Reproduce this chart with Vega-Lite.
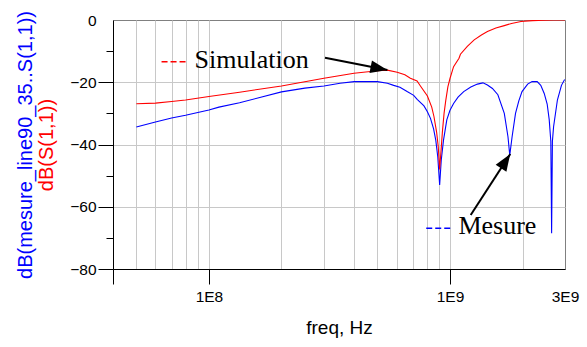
{
  "$schema": "https://vega.github.io/schema/vega-lite/v6.json",
  "width": 452,
  "height": 249,
  "autosize": {"type": "none"},
  "padding": {"left": 113, "top": 20, "right": 22, "bottom": 78},
  "background": "white",
  "config": {
    "view": {"stroke": "#808080", "strokeWidth": 1},
    "axis": {"labelFont": "Liberation Sans", "titleFont": "Liberation Sans", "titleFontWeight": "normal", "labelColor": "black", "titleColor": "black"}
  },
  "datasets": {
    "curves": [
      {"f": 50000000, "db": -34.4, "series": "Mesure"},
      {"f": 60000000, "db": -32.8, "series": "Mesure"},
      {"f": 70000000, "db": -31.5, "series": "Mesure"},
      {"f": 80000000, "db": -30.6, "series": "Mesure"},
      {"f": 100000000, "db": -28.9, "series": "Mesure"},
      {"f": 110000000, "db": -28.0, "series": "Mesure"},
      {"f": 134000000, "db": -26.6, "series": "Mesure"},
      {"f": 200000000, "db": -23.1, "series": "Mesure"},
      {"f": 250000000, "db": -21.9, "series": "Mesure"},
      {"f": 300000000, "db": -21.2, "series": "Mesure"},
      {"f": 350000000, "db": -20.3, "series": "Mesure"},
      {"f": 400000000, "db": -19.8, "series": "Mesure"},
      {"f": 500000000, "db": -19.8, "series": "Mesure"},
      {"f": 550000000, "db": -20.3, "series": "Mesure"},
      {"f": 584000000, "db": -21.0, "series": "Mesure"},
      {"f": 620000000, "db": -21.6, "series": "Mesure"},
      {"f": 664000000, "db": -23.0, "series": "Mesure"},
      {"f": 707000000, "db": -24.2, "series": "Mesure"},
      {"f": 731000000, "db": -25.5, "series": "Mesure"},
      {"f": 780000000, "db": -27.6, "series": "Mesure"},
      {"f": 806000000, "db": -29.5, "series": "Mesure"},
      {"f": 830000000, "db": -31.6, "series": "Mesure"},
      {"f": 855000000, "db": -35.0, "series": "Mesure"},
      {"f": 873000000, "db": -38.6, "series": "Mesure"},
      {"f": 890000000, "db": -44.0, "series": "Mesure"},
      {"f": 906000000, "db": -53.0, "series": "Mesure"},
      {"f": 920000000, "db": -45.0, "series": "Mesure"},
      {"f": 940000000, "db": -38.6, "series": "Mesure"},
      {"f": 970000000, "db": -32.1, "series": "Mesure"},
      {"f": 1000000000, "db": -29.0, "series": "Mesure"},
      {"f": 1035000000, "db": -26.8, "series": "Mesure"},
      {"f": 1080000000, "db": -24.8, "series": "Mesure"},
      {"f": 1140000000, "db": -23.0, "series": "Mesure"},
      {"f": 1220000000, "db": -21.5, "series": "Mesure"},
      {"f": 1300000000, "db": -20.6, "series": "Mesure"},
      {"f": 1370000000, "db": -20.2, "series": "Mesure"},
      {"f": 1430000000, "db": -20.9, "series": "Mesure"},
      {"f": 1500000000, "db": -22.0, "series": "Mesure"},
      {"f": 1580000000, "db": -24.0, "series": "Mesure"},
      {"f": 1680000000, "db": -30.0, "series": "Mesure"},
      {"f": 1740000000, "db": -37.5, "series": "Mesure"},
      {"f": 1770000000, "db": -43.4, "series": "Mesure"},
      {"f": 1810000000, "db": -37.5, "series": "Mesure"},
      {"f": 1870000000, "db": -30.0, "series": "Mesure"},
      {"f": 1930000000, "db": -26.0, "series": "Mesure"},
      {"f": 1990000000, "db": -23.0, "series": "Mesure"},
      {"f": 2100000000, "db": -20.6, "series": "Mesure"},
      {"f": 2190000000, "db": -19.8, "series": "Mesure"},
      {"f": 2300000000, "db": -19.8, "series": "Mesure"},
      {"f": 2380000000, "db": -21.0, "series": "Mesure"},
      {"f": 2460000000, "db": -23.6, "series": "Mesure"},
      {"f": 2530000000, "db": -27.0, "series": "Mesure"},
      {"f": 2580000000, "db": -32.0, "series": "Mesure"},
      {"f": 2620000000, "db": -39.0, "series": "Mesure"},
      {"f": 2640000000, "db": -68.5, "series": "Mesure"},
      {"f": 2660000000, "db": -39.0, "series": "Mesure"},
      {"f": 2690000000, "db": -34.3, "series": "Mesure"},
      {"f": 2790000000, "db": -25.7, "series": "Mesure"},
      {"f": 2900000000, "db": -21.0, "series": "Mesure"},
      {"f": 2980000000, "db": -19.3, "series": "Mesure"},
      {"f": 3000000000, "db": -19.2, "series": "Mesure"},
      {"f": 50000000, "db": -26.9, "series": "Simulation"},
      {"f": 60000000, "db": -26.7, "series": "Simulation"},
      {"f": 70000000, "db": -26.2, "series": "Simulation"},
      {"f": 80000000, "db": -25.7, "series": "Simulation"},
      {"f": 100000000, "db": -24.6, "series": "Simulation"},
      {"f": 134000000, "db": -23.2, "series": "Simulation"},
      {"f": 200000000, "db": -21.2, "series": "Simulation"},
      {"f": 300000000, "db": -18.7, "series": "Simulation"},
      {"f": 400000000, "db": -17.1, "series": "Simulation"},
      {"f": 500000000, "db": -16.3, "series": "Simulation"},
      {"f": 550000000, "db": -16.1, "series": "Simulation"},
      {"f": 604000000, "db": -16.8, "series": "Simulation"},
      {"f": 650000000, "db": -17.6, "series": "Simulation"},
      {"f": 685000000, "db": -18.7, "series": "Simulation"},
      {"f": 730000000, "db": -19.6, "series": "Simulation"},
      {"f": 754000000, "db": -21.2, "series": "Simulation"},
      {"f": 806000000, "db": -24.4, "series": "Simulation"},
      {"f": 840000000, "db": -28.0, "series": "Simulation"},
      {"f": 858000000, "db": -31.0, "series": "Simulation"},
      {"f": 880000000, "db": -36.0, "series": "Simulation"},
      {"f": 894000000, "db": -40.7, "series": "Simulation"},
      {"f": 906000000, "db": -48.0, "series": "Simulation"},
      {"f": 920000000, "db": -41.0, "series": "Simulation"},
      {"f": 930000000, "db": -36.0, "series": "Simulation"},
      {"f": 945000000, "db": -30.0, "series": "Simulation"},
      {"f": 960000000, "db": -26.0, "series": "Simulation"},
      {"f": 980000000, "db": -21.5, "series": "Simulation"},
      {"f": 1000000000, "db": -18.8, "series": "Simulation"},
      {"f": 1035000000, "db": -15.0, "series": "Simulation"},
      {"f": 1090000000, "db": -12.3, "series": "Simulation"},
      {"f": 1105000000, "db": -11.0, "series": "Simulation"},
      {"f": 1180000000, "db": -8.5, "series": "Simulation"},
      {"f": 1260000000, "db": -6.4, "series": "Simulation"},
      {"f": 1350000000, "db": -4.8, "series": "Simulation"},
      {"f": 1430000000, "db": -3.7, "series": "Simulation"},
      {"f": 1550000000, "db": -2.6, "series": "Simulation"},
      {"f": 1680000000, "db": -1.8, "series": "Simulation"},
      {"f": 1800000000, "db": -1.1, "series": "Simulation"},
      {"f": 1970000000, "db": -0.5, "series": "Simulation"},
      {"f": 2200000000, "db": -0.2, "series": "Simulation"},
      {"f": 2460000000, "db": -0.05, "series": "Simulation"},
      {"f": 2700000000, "db": 0, "series": "Simulation"},
      {"f": 3000000000, "db": 0, "series": "Simulation"}
    ],
    "arrows": [
      {"name": "Simulation", "f": 303000000, "db": -12.1, "f2": 550000000, "db2": -16.06},
      {"name": "Mesure", "f": 1219000000, "db": -62.65, "f2": 1778000000, "db2": -43.05}
    ],
    "legendlines": [
      {"series": "Simulation", "f": 63600000, "f2": 80000000, "db": -13.4},
      {"series": "Mesure", "f": 797000000, "f2": 1007000000, "db": -66.9}
    ],
    "labels": [
      {"label": "Simulation", "f": 87200000, "db": -15.5},
      {"label": "Mesure", "f": 1084000000, "db": -68.85}
    ]
  },
  "layer": [
    {
      "data": {"name": "curves"},
      "mark": {"type": "line", "strokeWidth": 1.1, "clip": true},
      "encoding": {
        "x": {
          "field": "f", "type": "quantitative",
          "scale": {"type": "log", "domain": [40000000, 3000000000], "nice": false},
          "axis": {
            "orient": "bottom",
            "values": [50000000, 60000000, 70000000, 80000000, 90000000, 100000000, 200000000, 300000000, 400000000, 500000000, 600000000, 700000000, 800000000, 900000000, 1000000000, 2000000000],
            "grid": true, "gridColor": "#c8c8c8", "gridWidth": 1,
            "ticks": false, "labels": false, "domain": false, "title": null
          }
        },
        "y": {
          "field": "db", "type": "quantitative",
          "scale": {"domain": [-80, 0], "nice": false, "zero": false},
          "axis": {
            "orient": "left",
            "values": [0, -20, -40, -60, -80],
            "grid": true, "gridColor": "#c8c8c8", "gridWidth": 1,
            "gridOpacity": {"condition": {"test": "datum.value == 0 || datum.value == -80", "value": 0}, "value": 1},
            "tickSize": 15, "tickColor": "black", "tickWidth": 1,
            "tickOpacity": {"condition": {"test": "datum.value == 0", "value": 0}, "value": 1},
            "labelFontSize": 15.5, "labelPadding": 2,
            "domain": true, "domainColor": "black", "domainWidth": 1,
            "title": "dB(mesure_line90_35..S(1,1))",
            "titleColor": "#0000ff", "titleFontSize": 20,
            "titleAngle": 270, "titleBaseline": "middle", "titleAlign": "center",
            "titleX": -88, "titleY": 124.5
          }
        },
        "color": {
          "field": "series", "type": "nominal",
          "scale": {"domain": ["Simulation", "Mesure"], "range": ["#ff0000", "#0000ff"]},
          "legend": null
        }
      }
    },
    {
      "data": {"name": "arrows"},
      "mark": {"type": "rule", "color": "black", "strokeWidth": 2},
      "encoding": {
        "x": {
          "field": "f", "type": "quantitative",
          "scale": {"type": "log", "domain": [40000000, 3000000000], "nice": false},
          "axis": {
            "orient": "bottom",
            "values": [40000000, 100000000, 1000000000, 3000000000],
            "grid": false,
            "tickSize": 15, "tickColor": "black", "tickWidth": 1,
            "tickOpacity": {"condition": {"test": "datum.value > 2000000000", "value": 0}, "value": 1},
            "labelExpr": "datum.value == 100000000 ? '1E8' : datum.value == 1000000000 ? '1E9' : datum.value == 3000000000 ? '3E9' : ''",
            "labelFontSize": 15.5, "labelPadding": 5, "labelFlush": false, "labelOverlap": false,
            "domain": true, "domainColor": "black", "domainWidth": 1,
            "title": "freq, Hz", "titleFontSize": 19, "titlePadding": 14
          }
        },
        "y": {
          "field": "db", "type": "quantitative",
          "scale": {"domain": [-80, 0], "nice": false, "zero": false},
          "axis": {
            "orient": "left",
            "values": [-10, -30, -50, -70],
            "grid": false, "labels": false, "domain": false,
            "tickSize": 7, "tickColor": "black", "tickWidth": 1,
            "title": "dB(S(1,1))",
            "titleColor": "#ff0000", "titleFontSize": 20,
            "titleAngle": 270, "titleBaseline": "middle", "titleAlign": "center",
            "titleX": -67, "titleY": 124.5
          }
        },
        "x2": {"field": "f2"},
        "y2": {"field": "db2"}
      }
    },
    {
      "data": {"name": "arrows"},
      "transform": [{"filter": "datum.name == 'Simulation'"}],
      "mark": {"type": "point", "shape": "M0,0 L-2,-0.75 L-2,0.75 Z", "filled": true, "color": "black", "opacity": 1, "size": 289, "angle": 11.2},
      "encoding": {
        "x": {"field": "f2", "type": "quantitative", "scale": {"type": "log", "domain": [40000000, 3000000000], "nice": false}, "axis": null},
        "y": {"field": "db2", "type": "quantitative", "scale": {"domain": [-80, 0], "nice": false, "zero": false}, "axis": null}
      }
    },
    {
      "data": {"name": "arrows"},
      "transform": [{"filter": "datum.name == 'Mesure'"}],
      "mark": {"type": "point", "shape": "M0,0 L-2,-0.75 L-2,0.75 Z", "filled": true, "color": "black", "opacity": 1, "size": 289, "angle": -57.2},
      "encoding": {
        "x": {"field": "f2", "type": "quantitative", "scale": {"type": "log", "domain": [40000000, 3000000000], "nice": false}, "axis": null},
        "y": {"field": "db2", "type": "quantitative", "scale": {"domain": [-80, 0], "nice": false, "zero": false}, "axis": null}
      }
    },
    {
      "data": {"name": "legendlines"},
      "mark": {"type": "rule", "strokeWidth": 1.5, "strokeDash": [6, 3]},
      "encoding": {
        "x": {"field": "f", "type": "quantitative", "scale": {"type": "log", "domain": [40000000, 3000000000], "nice": false}, "axis": null},
        "x2": {"field": "f2"},
        "y": {"field": "db", "type": "quantitative", "scale": {"domain": [-80, 0], "nice": false, "zero": false}, "axis": null},
        "color": {"field": "series", "type": "nominal", "scale": {"domain": ["Simulation", "Mesure"], "range": ["#ff0000", "#0000ff"]}, "legend": null}
      }
    },
    {
      "data": {"name": "labels"},
      "mark": {"type": "text", "font": "Liberation Serif", "fontSize": 26, "align": "left", "baseline": "alphabetic", "color": "black"},
      "encoding": {
        "x": {"field": "f", "type": "quantitative", "scale": {"type": "log", "domain": [40000000, 3000000000], "nice": false}, "axis": null},
        "y": {"field": "db", "type": "quantitative", "scale": {"domain": [-80, 0], "nice": false, "zero": false}, "axis": null},
        "text": {"field": "label"}
      }
    }
  ],
  "resolve": {"axis": {"x": "independent", "y": "independent"}}
}
